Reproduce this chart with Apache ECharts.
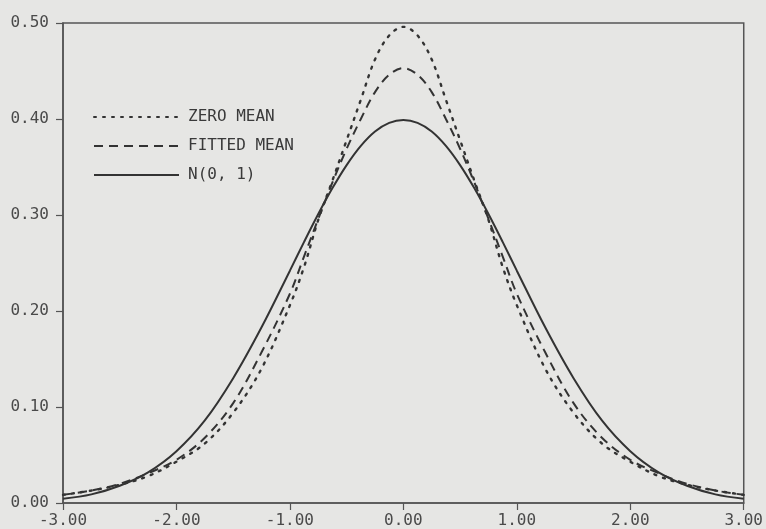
<!DOCTYPE html>
<html>
<head>
<meta charset="utf-8">
<script src="https://cdn.jsdelivr.net/npm/echarts@6/dist/echarts.min.js"></script>
<style>
html,body{margin:0;padding:0;background:#e6e6e4;}
#c{width:766px;height:529px;}
</style>
</head>
<body>
<div id="c"></div>
<script>
// x positions (symmetric grid)
var xs = [-3, -2.75, -2.5, -2.25, -2, -1.75, -1.5, -1.25, -1, -0.875, -0.75, -0.625, -0.5, -0.375, -0.25, -0.125,
          0, 0.125, 0.25, 0.375, 0.5, 0.625, 0.75, 0.875, 1, 1.25, 1.5, 1.75, 2, 2.25, 2.5, 2.75, 3];

var zeroMean = [0.0085, 0.013, 0.019, 0.028, 0.043, 0.062, 0.094, 0.140, 0.206, 0.246, 0.295, 0.336, 0.378, 0.420, 0.462, 0.487,
                0.496, 0.487, 0.462, 0.420, 0.378, 0.336, 0.295, 0.246, 0.206, 0.140, 0.094, 0.062, 0.043, 0.028, 0.019, 0.013, 0.0085];

var fittedMean = [0.0085, 0.013, 0.020, 0.031, 0.045, 0.068, 0.104, 0.157, 0.218, 0.257, 0.296, 0.334, 0.369, 0.400, 0.428, 0.446,
                  0.453, 0.446, 0.428, 0.400, 0.369, 0.334, 0.296, 0.257, 0.218, 0.157, 0.104, 0.068, 0.045, 0.031, 0.020, 0.013, 0.0085];

var normal01 = [0.0044, 0.009, 0.018, 0.032, 0.054, 0.086, 0.130, 0.183, 0.242, 0.272, 0.301, 0.328, 0.352, 0.372, 0.387, 0.396,
                0.399, 0.396, 0.387, 0.372, 0.352, 0.328, 0.301, 0.272, 0.242, 0.183, 0.130, 0.086, 0.054, 0.032, 0.018, 0.009, 0.0044];

var seriesNames = ['ZERO MEAN', 'FITTED MEAN', 'N(0, 1)'];

function pairs(ys){ return xs.map(function(x,i){ return [x, ys[i]]; }); }

var ink = '#3a3a3a';
var font = '"DejaVu Sans Mono", monospace';

var chart = echarts.init(document.getElementById('c'), null, {renderer:'canvas'});
chart.setOption({
  backgroundColor: '#e6e6e4',
  animation: false,
  grid: {left: 63, right: 22, top: 23, bottom: 26, show: true, borderColor: '#555', borderWidth: 1.5, backgroundColor: 'transparent'},
  legend: {
    orient: 'vertical', left: 93, top: 109, padding: 0,
    itemWidth: 85, itemHeight: 14, itemGap: 13,
    selectedMode: false,
    data: seriesNames,
    itemStyle: {opacity: 0},
    textStyle: {color: ink, fontFamily: font, fontSize: 16, padding: [0,0,0,4]}
  },
  xAxis: {
    type: 'value', min: -3, max: 3, interval: 1,
    axisLine: {show: true, onZero: false, lineStyle: {color: '#555', width: 1.5}},
    axisTick: {show: true, inside: false, length: 7, lineStyle: {color: '#555', width: 1.2}},
    splitLine: {show: false},
    axisLabel: {color: '#4a4a4a', fontFamily: font, fontSize: 16, margin: 10,
      formatter: function(v){ return v.toFixed(2); }}
  },
  yAxis: {
    type: 'value', min: 0, max: 0.5, interval: 0.1,
    axisLine: {show: true, onZero: false, lineStyle: {color: '#555', width: 1.5}},
    axisTick: {show: true, inside: false, length: 7, lineStyle: {color: '#555', width: 1.2}},
    splitLine: {show: false},
    axisLabel: {color: '#4a4a4a', fontFamily: font, fontSize: 16, margin: 14, padding: [0,0,4,0],
      formatter: function(v){ return v.toFixed(2); }}
  },
  series: [
    {name: seriesNames[0], type: 'line', data: pairs(zeroMean), smooth: 0.35, showSymbol: false, symbol: 'none',
     lineStyle: {color: '#333', width: 2.4, type: [2, 7], cap: 'round'}, itemStyle: {color: '#333'}},
    {name: seriesNames[1], type: 'line', data: pairs(fittedMean), smooth: 0.35, showSymbol: false, symbol: 'none',
     lineStyle: {color: '#333', width: 2, type: [9, 6]}, itemStyle: {color: '#333'}},
    {name: seriesNames[2], type: 'line', data: pairs(normal01), smooth: 0.35, showSymbol: false, symbol: 'none',
     lineStyle: {color: '#333', width: 2, type: 'solid'}, itemStyle: {color: '#333'}}
  ]
});
</script>
</body>
</html>
